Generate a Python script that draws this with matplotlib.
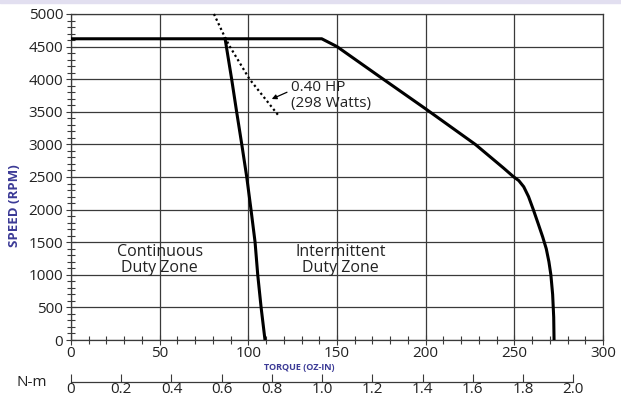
import matplotlib
matplotlib.use("Agg")
import matplotlib.pyplot as plt
from matplotlib.patches import Rectangle
from matplotlib.ticker import MultipleLocator

# ── Data ──────────────────────────────────────────────────────────────────────
# intermittent (peak) torque limit, oz-in vs rpm
peak_torque = [0, 141.4, 150, 174, 200, 228, 236.3, 243.8, 249.5, 252.5, 255.3, 258,
               260.7, 263.5, 266, 268, 269.5, 270.6, 271.6, 272.2, 272.4]
peak_speed = [4620, 4620, 4500, 4040, 3545, 3000, 2811, 2640, 2505, 2445, 2350, 2200,
              2000, 1780, 1580, 1400, 1200, 1000, 700, 350, 0]

# continuous torque limit
cont_torque = [86.9, 90.6, 93.4, 96.3, 99.1, 101.5, 103.8, 105.3, 107.2, 109.4]
cont_speed = [4620, 4000, 3500, 3000, 2500, 2000, 1500, 1000, 500, 0]

# 0.40 HP constant-power line
hp_torque = [80.6, 87.2, 89.6, 100.7, 117.1]
hp_speed = [5000, 4620, 4500, 4000, 3440]

OZIN_TO_NM = 0.00706155
PURPLE = "#3b3a96"
GRID = "#3a3a3a"
TXT = "#222222"

plt.rcParams["font.family"] = ["Open Sans", "DejaVu Sans"]

fig = plt.figure(figsize=(6.21, 4.01), dpi=100)
fig.patches.append(Rectangle((0, 0.992), 1, 0.008, transform=fig.transFigure,
                             color="#e2dff0", zorder=0))

ax = fig.add_axes([71 / 621, 1 - 340 / 401, 532 / 621, 326 / 401])
ax.set_xlim(0, 300)
ax.set_ylim(0, 5000)
ax.xaxis.set_major_locator(MultipleLocator(50))
ax.xaxis.set_minor_locator(MultipleLocator(10))
ax.yaxis.set_major_locator(MultipleLocator(500))
ax.yaxis.set_minor_locator(MultipleLocator(100))
ax.grid(True, which="major", color=GRID, linewidth=0.9)
ax.set_axisbelow(True)
for s in ax.spines.values():
    s.set_color(GRID)
    s.set_linewidth(0.9)
ax.tick_params(which="both", direction="inout", colors=GRID, labelcolor=TXT,
               labelsize=11, top=False, right=False)
ax.tick_params(which="major", length=7, width=0.8)
ax.tick_params(which="minor", length=6, width=0.8)
ax.tick_params(axis="y", pad=2)
ax.tick_params(axis="x", pad=1)

ax.plot(peak_torque, peak_speed, color="black", linewidth=2.2, zorder=3,
        solid_joinstyle="round")
ax.plot(cont_torque, cont_speed, color="black", linewidth=2.2, zorder=3,
        solid_joinstyle="round")
ax.plot(hp_torque, hp_speed, color="black", linewidth=1.6,
        linestyle=(0, (1, 1.3)), zorder=3, clip_on=False)

ax.annotate("", xy=(113.2, 3696), xytext=(121.8, 3800),
            arrowprops=dict(arrowstyle="-|>", color="black", lw=0.9,
                            mutation_scale=7, shrinkA=0, shrinkB=0))
ax.text(124.0, 3870, "0.40 HP", fontsize=11, va="center", ha="left", color=TXT)
ax.text(124.0, 3630, "(298 Watts)", fontsize=11, va="center", ha="left", color=TXT)

ax.text(50, 1227, "Continuous\nDuty Zone", fontsize=11.5, ha="center", va="center",
        linespacing=1.0, color=TXT)
ax.text(152, 1227, "Intermittent\nDuty Zone", fontsize=11.5, ha="center", va="center",
        linespacing=1.0, color=TXT)

fig.text(15 / 621, 1 - 206 / 401, "SPEED (RPM)", rotation=90, ha="center", va="center",
         fontsize=9.5, fontweight="bold", color=PURPLE)
fig.text(299 / 621, 1 - 367 / 401, "TORQUE (OZ-IN)", ha="center", va="center",
         fontsize=6.5, fontweight="bold", color=PURPLE)

# secondary N-m scale
ax2 = fig.add_axes([71 / 621, 1 - 382 / 401, 532 / 621, 0.001])
ax2.set_xlim(0, 300 * OZIN_TO_NM)
ax2.set_ylim(0, 1)
ax2.patch.set_visible(False)
for name in ("top", "left", "right"):
    ax2.spines[name].set_visible(False)
ax2.spines["bottom"].set_bounds(0, 2.0)
ax2.spines["bottom"].set_color(GRID)
ax2.spines["bottom"].set_linewidth(0.9)
ax2.set_yticks([])
ax2.set_xticks([0, 0.2, 0.4, 0.6, 0.8, 1.0, 1.2, 1.4, 1.6, 1.8, 2.0])
ax2.set_xticklabels(["0", "0.2", "0.4", "0.6", "0.8", "1.0", "1.2", "1.4", "1.6", "1.8", "2.0"])
ax2.tick_params(axis="x", direction="in", length=6, width=0.8, colors=GRID,
                labelcolor=TXT, labelsize=11, pad=0)
fig.text(32 / 621, 1 - 383 / 401, "N-m", ha="center", va="center", fontsize=11,
         color=TXT)

fig.savefig("out.png", dpi=100)
